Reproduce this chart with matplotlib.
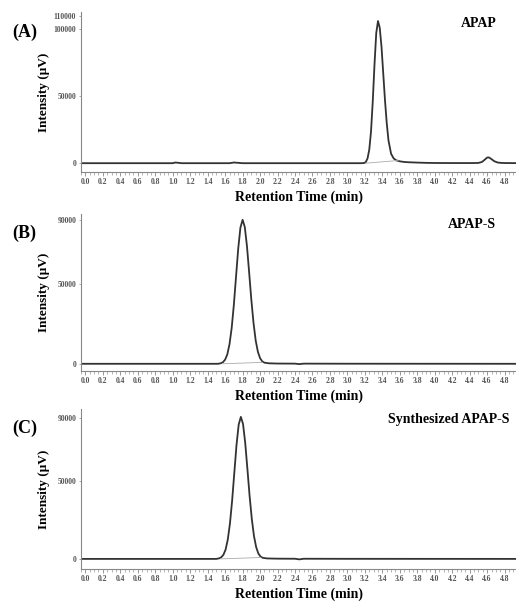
import matplotlib.pyplot as plt
from matplotlib.ticker import MultipleLocator, FormatStrFormatter

plt.rcParams['font.family'] = ['Liberation Serif', 'DejaVu Serif']
plt.rcParams['font.weight'] = 'bold'

# chromatogram traces: retention time (min) / intensity (uV)
time_a = [-0.05, 0.5, 1.0, 1.03, 1.06, 1.1, 1.65, 1.70, 1.74, 1.8, 2.5, 3.15, 3.19, 3.21,
          3.23, 3.25, 3.27, 3.29, 3.31, 3.33, 3.35, 3.37, 3.39, 3.41, 3.43, 3.45, 3.47,
          3.50, 3.53, 3.56, 3.60, 3.65, 3.70, 3.80, 3.90, 4.0, 4.2, 4.45, 4.50, 4.54,
          4.57, 4.60, 4.62, 4.65, 4.68, 4.72, 4.76, 4.82, 4.93]
sig_a = [0, 0, 0, 500, 300, 0, 0, 500, 300, 0, 0, 0, 100, 800,
         3500, 10000, 23500, 46000, 73500, 97000, 106000, 101000, 87000, 67000, 47000, 30000, 17000,
         7000, 3500, 2100, 1400, 900, 700, 450, 250, 150, 100, 100, 200, 900,
         2500, 4200, 4300, 3000, 1500, 500, 200, 100, 50]
base_a_t = [3.21, 3.58]
base_a_y = [0, 2000]

time_b = [-0.05, 1.0, 1.52, 1.55, 1.575, 1.60, 1.625, 1.65, 1.675, 1.70, 1.725, 1.75, 1.775,
          1.80, 1.825, 1.85, 1.875, 1.90, 1.925, 1.95, 1.975, 2.0, 2.025, 2.05, 2.1, 2.2,
          2.4, 2.45, 2.5, 3.0, 4.93]
sig_b = [0, 0, 0, 350, 1000, 2600, 5900, 12200, 22400, 37000, 54600, 72100, 85100,
         90000, 85500, 73500, 57000, 40000, 25500, 14500, 7500, 3500, 1500, 700, 300, 150,
         100, -200, 100, 50, 0]
base_b_t = [1.57, 2.03]
base_b_y = [0, 900]

time_c = [-0.05, 1.0, 1.50, 1.53, 1.555, 1.58, 1.605, 1.63, 1.655, 1.68, 1.705, 1.73, 1.755,
          1.78, 1.805, 1.83, 1.855, 1.88, 1.905, 1.93, 1.955, 1.98, 2.005, 2.03, 2.08, 2.2,
          2.4, 2.45, 2.5, 3.0, 4.93]
sig_c = [0, 0, 0, 350, 1000, 2600, 5900, 12300, 22600, 37300, 55100, 72800, 86000,
         91000, 86400, 74300, 57600, 40400, 25800, 14700, 7600, 3500, 1500, 700, 300, 150,
         100, -300, 100, 50, 0]
base_c_t = [1.55, 2.01]
base_c_y = [0, 900]

panels = [
    ("(A)", "APAP", 0.955, time_a, sig_a, base_a_t, base_a_y, [0, 50000, 100000, 110000], (-6700, 112700)),
    ("(B)", "APAP-S", 0.955, time_b, sig_b, base_b_t, base_b_y, [0, 50000, 90000], (-4400, 93800)),
    ("(C)", "Synthesized APAP-S", 0.985, time_c, sig_c, base_c_t, base_c_y, [0, 50000, 90000], (-6400, 96200)),
]

fig = plt.figure(figsize=(5.16, 6.02), dpi=100)
boxes = [[0.157, 0.714, 0.843, 0.266], [0.157, 0.384, 0.843, 0.261], [0.157, 0.055, 0.843, 0.266]]

for (tag, name, nx, t, y, bt, by, yticks, ylim), box in zip(panels, boxes):
    ax = fig.add_axes(box)
    ax.plot(t, y, color='#333333', lw=1.3)
    ax.plot(bt, by, color='#aaaaaa', lw=0.6)
    ax.set_xlim(-0.05, 4.93)
    ax.set_ylim(*ylim)
    ax.spines['top'].set_visible(False)
    ax.spines['right'].set_visible(False)
    for s in ['left', 'bottom']:
        ax.spines[s].set_color('#888888')
        ax.spines[s].set_linewidth(0.8)
    ax.xaxis.set_major_locator(MultipleLocator(0.2))
    ax.xaxis.set_minor_locator(MultipleLocator(0.05))
    ax.xaxis.set_major_formatter(FormatStrFormatter('%.1f'))
    ax.set_yticks(yticks)
    ax.tick_params(axis='x', which='major', length=3, width=0.6, colors='#888888',
                   labelcolor='#555555', labelsize=5.5, pad=1.5)
    ax.tick_params(axis='x', which='minor', length=2, width=0.5, colors='#999999')
    ax.tick_params(axis='y', length=1.5, width=0.5, colors='#888888',
                   labelcolor='#555555', labelsize=5.5, pad=2)
    ax.set_xlabel("Retention Time (min)", fontsize=10, fontweight='bold', labelpad=3)
    ax.set_ylabel("Intensity (\u03bcV)", fontsize=9.5, fontweight='bold')
    ax.yaxis.set_label_coords(-0.072, 0.5)
    ax.text(nx, 0.93, name, transform=ax.transAxes, ha='right', va='center',
            fontsize=10, fontweight='bold')
    fig.text(0.047, box[1] + box[3] - 0.033, tag, ha='center', va='center',
             fontsize=13, fontweight='bold')

fig.savefig("out.png", dpi=100)
